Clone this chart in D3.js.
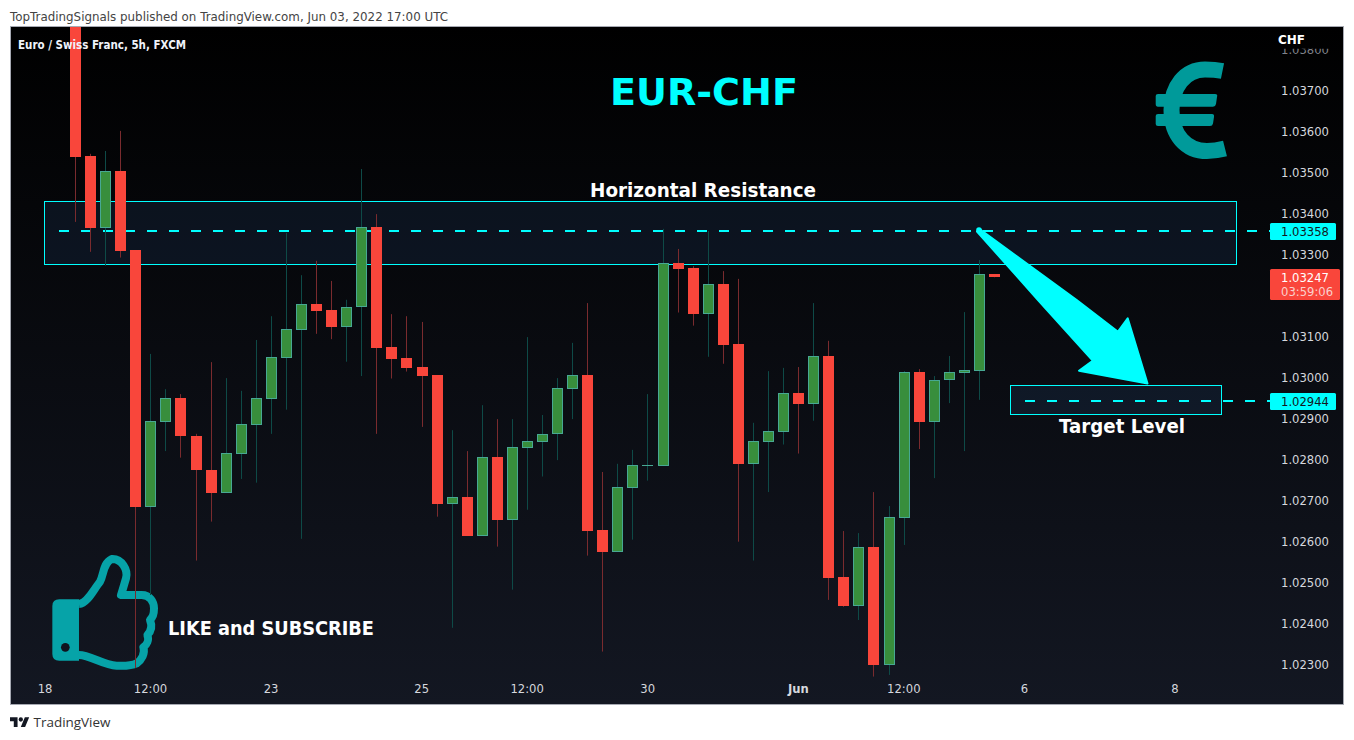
<!DOCTYPE html>
<html>
<head>
<meta charset="utf-8">
<script src="https://cdnjs.cloudflare.com/ajax/libs/d3/7.8.5/d3.min.js"></script>
<style>
html,body{margin:0;padding:0;background:#fff;overflow:hidden}
svg{display:block}
text{font-family:"DejaVu Sans",sans-serif}
</style>
</head>
<body>
<svg id="c" width="1354" height="740"></svg>
<script>
// ---- data (prices) ----
const open  = [1.03900,1.03541,1.03366,1.03504,1.03311,1.02685,1.02893,1.02950,1.02859,1.02776,1.02720,1.02815,1.02885,1.02949,1.03049,1.03117,1.03180,1.03164,1.03124,1.03172,1.03368,1.03074,1.03047,1.03025,1.03006,1.02693,1.02709,1.02615,1.02807,1.02654,1.02829,1.02844,1.02862,1.02973,1.03007,1.02628,1.02576,1.02732,1.02786,1.02785,1.03280,1.03267,1.03156,1.03229,1.03081,1.02790,1.02844,1.02868,1.02963,1.02937,1.03053,1.02514,1.02444,1.02587,1.02300,1.02659,1.03014,1.02893,1.02994,1.03012,1.03017,1.03252];
const close = [1.03539,1.03365,1.03503,1.03310,1.02685,1.02894,1.02950,1.02859,1.02776,1.02720,1.02816,1.02886,1.02950,1.03050,1.03118,1.03179,1.03163,1.03124,1.03172,1.03367,1.03073,1.03046,1.03024,1.03005,1.02693,1.02708,1.02615,1.02806,1.02654,1.02830,1.02845,1.02862,1.02974,1.03006,1.02627,1.02576,1.02733,1.02786,1.02786,1.03279,1.03266,1.03156,1.03228,1.03080,1.02790,1.02845,1.02869,1.02962,1.02937,1.03052,1.02512,1.02444,1.02586,1.02300,1.02660,1.03013,1.02893,1.02994,1.03013,1.03019,1.03252,1.03245];
const high  = [1.03900,1.03546,1.03553,1.03602,1.03311,1.03058,1.02972,1.02960,1.02863,1.03038,1.02999,1.02968,1.03092,1.03150,1.03353,1.03250,1.03285,1.03236,1.03190,1.03509,1.03399,1.03155,1.03150,1.03136,1.03006,1.02872,1.02821,1.02933,1.02899,1.02899,1.03099,1.02909,1.02999,1.03085,1.03182,1.02770,1.02790,1.02824,1.02960,1.03363,1.03314,1.03272,1.03358,1.03260,1.03241,1.02890,1.03016,1.03024,1.03026,1.03182,1.03090,1.02626,1.02621,1.02721,1.02687,1.03016,1.03021,1.03004,1.03053,1.03160,1.03287,1.03252];
const low   = [1.03380,1.03307,1.03273,1.03293,1.02292,1.02470,1.02821,1.02805,1.02554,1.02649,1.02720,1.02753,1.02744,1.02863,1.02922,1.02607,1.03107,1.03094,1.03039,1.03004,1.02863,1.02998,1.03015,1.02880,1.02661,1.02390,1.02615,1.02615,1.02588,1.02483,1.02678,1.02759,1.02799,1.02899,1.02566,1.02332,1.02576,1.02605,1.02749,1.02785,1.03159,1.03127,1.03051,1.03034,1.02600,1.02554,1.02721,1.02837,1.02815,1.02895,1.02458,1.02441,1.02409,1.02271,1.02275,1.02592,1.02826,1.02755,1.02938,1.02821,1.02946,1.03245];

const priceTicks = [1.038,1.037,1.036,1.035,1.034,1.033,1.031,1.030,1.029,1.028,1.027,1.026,1.025,1.024,1.023];
const timeTickIndex = [-2,5,13,23,30,38,48,55,63,73];
const timeTickLabels = ["18","12:00","23","25","12:00","30","Jun","12:00","6","8"];

const resistanceLevel = 1.03358;
const targetLevel = 1.02944;
const lastPrice = "1.03247";
const countdown = "03:59:06";
const resistanceBand = [1.03430,1.03277];
const targetBand = [1.02982,1.02912];

// ---- colours ----
const UP="#388e3c", UPB="#47a893", UPW="#0e4a47", DN="#f9463b", DNW="#7a2b2e", CY="#00ffff";

// ---- scales ----
const P={l:11,r:1343,t:27,b:704};
const y=d3.scaleLinear().domain([1.037,1.023]).range([90.7,664.7]);
const x=d3.scaleLinear().domain([0,61]).range([75.5,994.5]);
const sx=v=>Math.floor(x(v))+0.5;

const svg=d3.select("#c");
const defs=svg.append("defs");
const g=defs.append("linearGradient").attr("id","bg").attr("x1",0).attr("x2",0).attr("y1",0).attr("y2",1);
g.append("stop").attr("offset","0%").attr("stop-color","#000");
g.append("stop").attr("offset","100%").attr("stop-color","#131722");
defs.append("clipPath").attr("id","plot").append("rect").attr("x",P.l).attr("y",P.t).attr("width",1260).attr("height",P.b-P.t);
defs.append("clipPath").attr("id","topTick").append("rect").attr("x",-5).attr("y",-1.5).attr("width",70).attr("height",10);

function label(sel,txt,xp,yp,opt){
  const o=Object.assign({size:12,weight:"normal",fill:"#fff",anchor:"start"},opt||{});
  const t=sel.append("text").attr("x",xp).attr("y",yp).attr("dy","0.35em").attr("text-anchor",o.anchor)
    .attr("font-size",o.size).attr("font-weight",o.weight).attr("fill",o.fill).text(txt);
  if(o.len) t.attr("textLength",o.len).attr("lengthAdjust","spacingAndGlyphs");
  if(o.family) t.style("font-family",o.family);
  return t;
}

// header
label(svg,"TopTradingSignals published on TradingView.com, Jun 03, 2022 17:00 UTC",10,17,{size:12,fill:"#444",len:438});

// panel
svg.append("rect").attr("x",10.5).attr("y",26.5).attr("width",1333).attr("height",678)
  .attr("fill","url(#bg)").attr("stroke","#a6a9b2");

// footer logo
const logo=svg.append("g").attr("transform","translate(10,715.2) scale(0.54)").attr("fill","#131722");
logo.append("path").attr("d","M14 22H7V11H0V4h14v18zM28 22h-8l7.5-18h8L28 22z");
logo.append("circle").attr("cx",20).attr("cy",8).attr("r",4);
label(svg,"TradingView",33.5,722,{size:13.5,fill:"#333",len:77,family:"'Open Sans',sans-serif"});

// drawings below candles
const draw=svg.append("g").attr("clip-path","url(#plot)");
const bandRect=(x0,w,band,fill,stroke,op)=>draw.append("rect").attr("x",x0).attr("width",w)
  .attr("y",Math.round(y(band[0]))+.5).attr("height",Math.round(y(band[1]))-Math.round(y(band[0])))
  .attr("fill",fill).attr("fill-opacity",op).attr("stroke",stroke);
const rx0=Math.floor(x(-2.06))+.5, rw=Math.round(x(77.09)-x(-2.06));
bandRect(rx0,rw,resistanceBand,"#2e5e9d","none",.15);
bandRect(1010.5,211,targetBand,"#2e5e9d","none",.15);
const dash=(lvl,x0)=>draw.append("line").attr("x1",x0).attr("x2",1270).attr("y1",Math.round(y(lvl))).attr("y2",Math.round(y(lvl)))
  .attr("stroke",CY).attr("stroke-width",2).attr("stroke-dasharray","10 12");
dash(resistanceLevel,59);
dash(targetLevel,1025);
bandRect(rx0,rw,resistanceBand,"none",CY,1);
bandRect(1010.5,211,targetBand,"none",CY,1);

// thumb icon
const thumb=svg.append("g").attr("transform","translate(0,520) scale(0.33333)");
thumb.append("path").attr("fill","#06a3a8")
  .attr("d","M178,238 L237,238 L237,422 L178,422 Q157,422 157,402 L157,258 Q157,238 178,238Z");
thumb.append("circle").attr("cx",196).attr("cy",382).attr("r",13).attr("fill","#10141e");
thumb.append("path").attr("fill","none").attr("stroke","#06a3a8").attr("stroke-width",24).attr("stroke-linejoin","round")
  .attr("d","M237,252 C262,250 280,210 300,185 C312,165 308,130 335,117 C365,115 385,150 378,175 C372,195 368,210 363,225 L425,225 C450,225 462,245 462,265 C462,285 458,290 450,300 C458,320 452,335 442,345 C448,360 440,375 430,382 C436,400 425,420 410,430 C395,437 370,438 350,437 C310,435 270,405 237,405");

// euro icon
const euro=svg.append("g").attr("fill","#009a9a");
euro.append("path").attr("fill","none").attr("stroke","#009a9a").attr("stroke-width",16)
  .attr("d","M1222.5,71 C1215,69.5 1210,69.5 1205,69.5 C1185,69.5 1171.5,87 1171.5,110 C1171.5,135 1186,151 1207,151 C1213,151 1219,150 1225,148.5");
euro.append("path").attr("d","M1158,94 L1215,94 Q1218,94 1217,97 L1216,104 Q1215.5,106.7 1213,106.7 L1158,106.7 Q1155.7,106.7 1155.7,104 L1155.7,96 Q1155.7,94 1158,94Z");
euro.append("path").attr("d","M1158,114 L1212,114 Q1214.5,114 1214,117 L1213,123.5 Q1212.5,126 1210,126 L1158,126 Q1155.7,126 1155.7,124 L1155.7,116 Q1155.7,114 1158,114Z");

// candles
const idx=d3.range(open.length);
const cg=svg.append("g").attr("clip-path","url(#plot)");
cg.selectAll("line.w").data(idx).join("line").attr("class","w")
  .attr("x1",sx).attr("x2",sx)
  .attr("y1",i=>y(high[i])).attr("y2",i=>y(low[i]))
  .attr("stroke",i=>close[i]>=open[i]?UPW:DNW).attr("stroke-width",1);
const isUp=i=>close[i]>=open[i];
const bTop=i=>Math.round(y(Math.max(open[i],close[i])));
const bBot=i=>Math.round(y(Math.min(open[i],close[i])));
cg.selectAll("rect.b").data(idx).join("rect").attr("class","b")
  .attr("x",i=>sx(i)-5)
  .attr("width",10)
  .attr("y",i=>bTop(i)+.5)
  .attr("height",i=>Math.max(0.01,bBot(i)-bTop(i)-1))
  .attr("fill",i=>isUp(i)?UP:DN)
  .attr("stroke",i=>isUp(i)?UPB:DN);

// arrow
const arrow=svg.append("g").attr("fill",CY);
arrow.append("path").attr("stroke",CY).attr("stroke-width",2).attr("stroke-linejoin","round")
  .attr("d","M979.5,229 L1076.7,300 L1118,331.7 L1127.7,318.3 L1147.5,383.5 L1079,370.7 L1092.7,360.7 L1038,300L977,231.5Z");
arrow.append("circle").attr("cx",979).attr("cy",230).attr("r",2.8);

// price axis
const ya=svg.append("g").attr("transform","translate(1272,0)")
  .call(d3.axisRight(y).tickValues(priceTicks).tickSize(0).tickPadding(9).tickFormat(d3.format(".5f")));
ya.select(".domain").remove();
ya.selectAll("text").attr("font-size",11.6).attr("fill","#d6d8de").style("font-family",'"DejaVu Sans",sans-serif').attr("x",9);
// the top tick is cut off by the chart's header strip
ya.selectAll(".tick").filter(d=>d===1.038).attr("clip-path","url(#topTick)").select("text").attr("fill","#80838b");
label(svg,"CHF",1278,40,{size:12,weight:"bold"});

// time axis
const xa=svg.append("g").attr("transform","translate(-0.8,685)")
  .call(d3.axisBottom(x).tickValues(timeTickIndex).tickSize(0).tickPadding(0).tickFormat((d,i)=>timeTickLabels[i]));
xa.select(".domain").remove();
xa.selectAll("text").attr("font-size",11.6).attr("fill","#d6d8de").attr("dy","0.7em").style("font-family",'"DejaVu Sans",sans-serif')
  .attr("font-weight",(d,i)=>timeTickLabels[i]==="Jun"?"bold":"normal");

// price labels
function tag(lvl,txt){
  const yy=Math.round(y(lvl));
  svg.append("rect").attr("x",1270).attr("y",yy-8).attr("width",66).attr("height",17).attr("rx",1.5).attr("fill",CY);
  label(svg,txt,1281,yy+.5,{size:11.6,fill:"#131722"});
}
tag(resistanceLevel,d3.format(".5f")(resistanceLevel));
tag(targetLevel,d3.format(".5f")(targetLevel));
svg.append("rect").attr("x",1270).attr("y",269).attr("width",70).attr("height",31).attr("rx",1.5).attr("fill",DN);
label(svg,lastPrice,1281,277.5,{size:11.6,fill:"#fff"});
label(svg,countdown,1281,292,{size:11.6,fill:"#fbd0cc"});

// annotations
label(svg,"Euro / Swiss Franc, 5h, FXCM",18,44.5,{size:12,weight:"bold",fill:"#f0f3fa",len:168});
label(svg,"EUR-CHF",704,92,{size:38,weight:"bold",fill:CY,anchor:"middle",len:188});
label(svg,"Horizontal Resistance",703,190,{size:19,weight:"bold",fill:"#fff",anchor:"middle",len:226});
label(svg,"Target Level",1122,426.5,{size:19,weight:"bold",fill:"#fff",anchor:"middle",len:126});
label(svg,"LIKE and SUBSCRIBE",168,628,{size:19,weight:"bold",fill:"#fff",len:206});
</script>
</body>
</html>
